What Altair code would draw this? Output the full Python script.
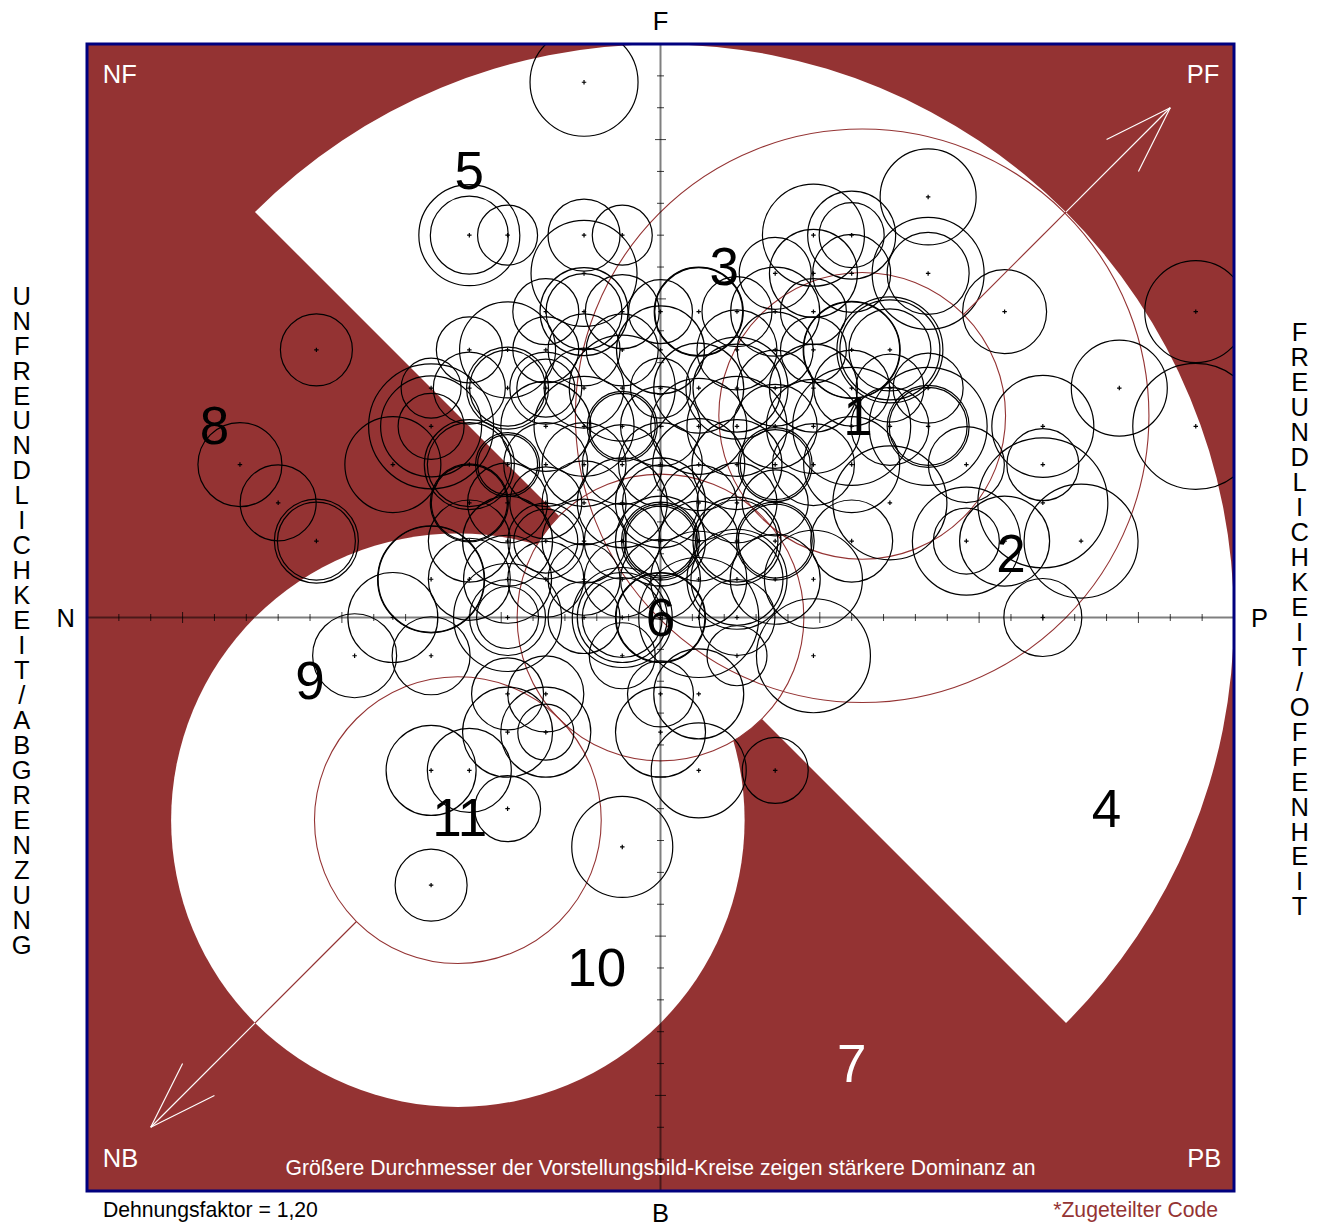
import math
import altair as alt
import pandas as pd

STRETCH = 1.2
UNIT_PX = 1147 / 36
RED = "#943333"
NAVY = "#00007f"

rows = {
    14: [(-2, 54)],
    11: [(7, 48)],
    10: [(-5, 50.5), (-5, 39), (-4, 30), (-2, 36), (-1, 30), (4, 51), (5, 44), (5, 32.5)],
    9: [(-2, 53), (3, 36), (4, 44), (5, 39), (7, 56), (7, 41)],
    8: [(-3, 33), (-2, 44), (-2, 38), (-1, 37), (0, 32), (1, 44), (1, 44.5), (2, 35), (3, 44.5), (4, 33), (9, 42), (14, 51)],
    7: [(-9, 36), (-5, 33), (-4, 48), (-3, 33), (-2, 36), (-1, 36), (0, 44), (2, 40), (3, 38), (4, 33), (5, 48), (5, 48.5), (6, 53), (6, 50), (6, 41)],
    6: [(-6, 30), (-5, 36), (-4, 41), (-4, 38), (-3, 29), (-3, 36), (-2, 40), (-1, 53), (0, 30), (1, 45), (2, 51), (2, 44), (3, 38), (4, 44), (5, 38), (6, 34), (7, 35), (12, 48)],
    5: [(-6, 62.5), (-6, 50.5), (-6, 33), (-3, 45), (-2, 50), (-1, 35), (-1, 33), (0, 40), (1, 48), (2, 50), (3, 42), (4, 47), (5, 59), (6, 39), (7, 41), (7, 39), (7, 59), (10, 51), (14, 63)],
    4: [(-11, 42), (-7, 48), (-5, 45), (-5, 42), (-4, 32), (-4, 30), (-3, 42), (-2, 42), (-1, 40), (0, 42), (1, 46), (2, 45), (3, 37), (3, 35), (4, 41), (5, 48), (8, 38), (10, 36)],
    3: [(-10, 38), (-5, 39), (-5, 38), (-4, 40), (-3, 36), (-2, 42), (-1, 45), (0, 45), (0, 38), (1, 38), (2, 40), (3, 33), (6, 57), (10, 65)],
    2: [(-9, 42), (-9, 39), (-5, 41), (-4, 45), (-3, 32), (-3, 38), (-2, 42), (-1, 38), (0, 45), (0, 39), (0, 37), (0, 35), (1, 40), (2, 44), (2, 41), (3, 39), (3, 37), (5, 41), (8, 54), (8, 33), (9, 45), (11, 57)],
    1: [(-6, 53), (-6, 53.5), (-5, 41), (-4, 44), (-3, 38), (-2, 36), (-1, 38), (0, 40), (1, 48), (2, 50), (2, 46), (3, 45), (4, 49)],
    0: [(-7, 45), (-4, 54), (-4, 38), (-4, 31), (-2, 36), (-1, 50), (-1, 45), (-1, 40), (0, 44.5), (0, 45), (1, 60), (2, 38), (10, 39)],
    -1: [(-8, 42), (-6, 39), (-1, 33), (2, 30), (4, 57)],
    -2: [(-4, 36), (-3, 38), (0, 33), (1, 45)],
    -3: [(-4, 45), (-3, 45), (-3, 28), (0, 45)],
    -4: [(-6, 45), (-5, 42), (1, 47.5), (3, 33)],
    -5: [(-4, 33)],
    -6: [(-1, 50.5)],
    -7: [(-6, 36)],
}

region_numbers = ["1", "2", "3", "4", "5", "6", "7", "8", "9", "10", "11"]
region_x = [6.2, 11, 2, 14, -6, 0, 6, -14, -11, -2, -6.3]
region_y = [6.3, 2, 11, -6, 14, 0, -14, 6, -2, -11, -6.3]

corner_labels = ["NF", "PF", "NB", "PB"]
corner_x = [-16.97, 17.03, -16.95, 17.07]
corner_y = [17.05, 17.05, -16.95, -16.95]

pole_labels = ["F", "B", "N", "P"]
pole_x = [0, 0, -18.67, 18.8]
pole_y = [18.72, -18.7, 0, 0]

left_title = "UNFREUNDLICHKEIT/ABGRENZUNG"
right_title = "FREUNDLICHKEIT/OFFENHEIT"

circles = pd.DataFrame(
    [{"x": i * STRETCH, "y": j * STRETCH, "r": r} for j, row in rows.items() for i, r in row]
)
circles["size"] = (2 * circles["r"]) ** 2
centres = circles[["x", "y"]].drop_duplicates()

sx = alt.Scale(domain=[-18, 18], nice=False, zero=False)
sy = alt.Scale(domain=[-18, 18], nice=False, zero=False)
X = alt.X("x:Q", scale=sx, axis=None)
Y = alt.Y("y:Q", scale=sy, axis=None)
X2 = alt.X2("x2:Q")
Y2 = alt.Y2("y2:Q")

background = alt.Chart(pd.DataFrame({"x": [-18], "x2": [18], "y": [-18], "y2": [18]})).mark_rect(
    fill=RED, stroke=None
).encode(x=X, x2=X2, y=Y, y2=Y2)


def disk(cx, cy, r_units, start=0.0, end=2 * math.pi):
    return alt.Chart(pd.DataFrame({"x": [cx], "y": [cy]})).mark_arc(
        radius=r_units * UNIT_PX, theta=start, theta2=end, fill="white", clip=True
    ).encode(x=X, y=Y)


white = [
    disk(0, 0, 18, 7 * math.pi / 4, 11 * math.pi / 4),
    disk(0, 0, 4.5),
    disk(-6.36, -6.36, 9),
]

rings_df = pd.DataFrame({
    "x": [6.33, 6.33, 0, -6.36],
    "y": [6.33, 6.33, 0, -6.36],
    "size": [(2 * 9 * UNIT_PX) ** 2, (2 * 4.5 * UNIT_PX) ** 2, (2 * 4.5 * UNIT_PX) ** 2, (2 * 4.5 * UNIT_PX) ** 2],
})
rings = alt.Chart(rings_df).mark_point(
    shape="circle", filled=False, stroke=RED, strokeWidth=1.1, opacity=1
).encode(x=X, y=Y, size=alt.Size("size:Q", scale=None, legend=None))

circle_layer = alt.Chart(circles).mark_point(
    shape="circle", filled=False, stroke="black", strokeWidth=1.2, opacity=1, clip=True
).encode(x=X, y=Y, size=alt.Size("size:Q", scale=None, legend=None))

plus_layer = alt.Chart(centres).mark_point(
    shape="M-1,0H1M0,-1V1", filled=False, stroke="black", strokeWidth=1.2, opacity=1, size=20
).encode(x=X, y=Y)

axis_lines = alt.Chart(pd.DataFrame({
    "x": [-18, 0], "x2": [18, 0], "y": [0, -18], "y2": [0, 18]
})).mark_rule(stroke="black", strokeOpacity=0.5, strokeWidth=2).encode(x=X, x2=X2, y=Y, y2=Y2)

tick_vals = [v for v in range(-17, 18) if v != 0]
xt = pd.DataFrame({"x": tick_vals, "y": [0] * len(tick_vals), "long": [v % 5 == 0 for v in tick_vals]})
yt = pd.DataFrame({"x": [0] * len(tick_vals), "y": tick_vals, "long": [v % 5 == 0 for v in tick_vals]})


def ticks(df, orient, long_):
    return alt.Chart(df[df["long"] == long_]).mark_tick(
        orient=orient, size=11 if long_ else 7, thickness=1, color="black", opacity=0.75
    ).encode(x=X, y=Y)


tick_layers = [ticks(xt, "vertical", True), ticks(xt, "vertical", False),
               ticks(yt, "horizontal", True), ticks(yt, "horizontal", False)]


def segs(pts, colour):
    out = []
    for (a, b, c, d) in pts:
        out.append(alt.Chart(pd.DataFrame({"x": [a], "x2": [c], "y": [b], "y2": [d]})).mark_rule(
            stroke=colour, strokeWidth=1.2).encode(x=X, x2=X2, y=Y, y2=Y2))
    return out


arrows = (
    segs([(9.5, 9.5, 12.73, 12.73), (-9.55, -9.55, -12.73, -12.73)], RED)
    + segs([(12.73, 12.73, 16, 16), (16, 16, 14, 15), (16, 16, 15, 14),
            (-12.73, -12.73, -16, -16), (-16, -16, -15, -14), (-16, -16, -14, -15)], "white")
)

frame = alt.Chart(pd.DataFrame({"x": [-18], "x2": [18], "y": [-18], "y2": [18]})).mark_rect(
    fill=None, filled=False, stroke=NAVY, strokeWidth=3, clip=False
).encode(x=X, x2=X2, y=Y, y2=Y2)


def text_layer(labels, xs, ys, size, colour="black", **kw):
    df = pd.DataFrame({"x": xs, "y": ys, "t": labels})
    base = dict(font="Liberation Sans", fontSize=size, color=colour, baseline="middle", align="center")
    base.update(kw)
    return alt.Chart(df).mark_text(**base).encode(x=X, y=Y, text="t:N")


white_numbers = {"7"}
texts = [
    text_layer([n for n in region_numbers if n not in white_numbers],
               [a for n, a in zip(region_numbers, region_x) if n not in white_numbers],
               [a for n, a in zip(region_numbers, region_y) if n not in white_numbers], 53, dy=2),
    text_layer(["7"], [6], [-14], 53, "white", dy=2),
    text_layer(corner_labels, corner_x, corner_y, 25.5, "white", dy=1),
    text_layer(pole_labels, pole_x, pole_y, 25.5, dy=1),
    text_layer(["Größere Durchmesser der Vorstellungsbild-Kreise zeigen stärkere Dominanz an"], [0], [-17.28], 21.2, "white", dy=1),
    text_layer(["Dehnungsfaktor = 1,20"], [-17.5], [-18.6], 21.2, align="left", dy=1),
    text_layer(["*Zugeteilter Code"], [17.5], [-18.6], 21.2, RED, align="right", dy=1),
    text_layer(["\n".join(left_title)], [-20.05], [10.1], 25.5, lineBreak="\n", lineHeight=24.96, dy=1),
    text_layer(["\n".join(right_title)], [20.06], [8.95], 25.5, lineBreak="\n", lineHeight=24.96, dy=1),
]

chart = alt.layer(
    background, *white, rings, circle_layer, plus_layer, axis_lines, *tick_layers, *arrows, frame, *texts
).properties(
    width=1147,
    height=1147,
    padding={"left": 79, "top": 36, "right": 77, "bottom": 33},
    autosize=alt.AutoSizeParams(type="none"),
).configure_view(stroke=None)

chart.save("out.html", embed_options={"renderer": "svg", "actions": False})
